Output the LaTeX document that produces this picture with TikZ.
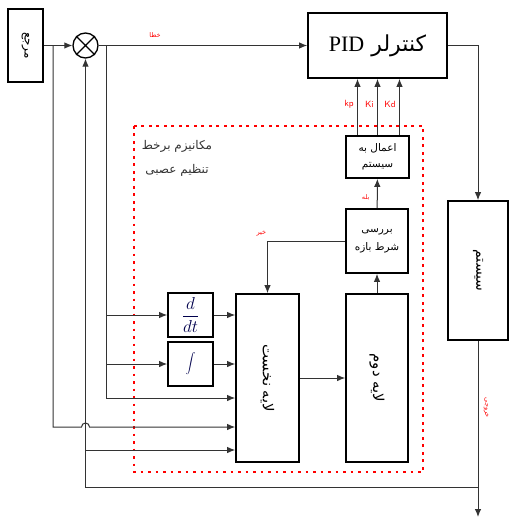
\documentclass[tikz,border=0pt]{standalone}
\usepackage{fontspec}
\setmainfont{Liberation Serif}
\newfontfamily\farsi[Script=Arabic]{DejaVu Sans}
\TeXXeTstate=1
\usepackage{tikz}
\usetikzlibrary{arrows.meta}
\tikzset{edge/.style = {-{Latex[length=8pt,width=6.5pt]}, line width=1pt, draw=black!80}}
\newcommand{\fa}[1]{{\farsi\beginR #1\endR}}

\begin{document}
\begin{tikzpicture}[x=1pt,y=-1pt,
  block/.style={draw,line width=1.7pt,inner sep=0pt},
  tag/.style={text=red,font=\farsi\fontsize{6.5}{7}\selectfont},
  gain/.style={text=red,font=\sffamily\fontsize{9}{10}\selectfont}]
\useasboundingbox (0,0) rectangle (509,521);

% main loop
\node[block,minimum width=35pt,minimum height=73pt] (ref) at (25.5,45.5) {};
\node[rotate=-90,font=\farsi\fontsize{12}{14}\selectfont] at (ref) {\fa{مرجع}};
\node[draw,circle,line width=1.3pt,minimum size=25pt,inner sep=0pt] (sum) at (85.5,45.5) {};
\draw[line width=1.4pt] (sum.north west) -- (sum.south east) (sum.north east) -- (sum.south west);
\node[block,minimum width=139pt,minimum height=65pt] (pid) at (377.5,45.5)
  {\fontsize{22}{26}\selectfont\farsi\beginR کنترلر \beginL{\rmfamily PID}\endL\endR};
\node[block,minimum width=60pt,minimum height=139pt] (sys) at (478,270.5) {};
\node[rotate=-90,font=\farsi\fontsize{14}{16}\selectfont] at (sys) {\fa{سیستم}};
\coordinate (out) at (478,517);
\coordinate (fb) at (478,487);
\coordinate (b1) at (53,45.5);
\coordinate (b2) at (106,45.5);

% neural tuning
\draw[red,line width=2.6pt,dash pattern=on 2.6pt off 4.9pt] (134,126) rectangle (423,472);
\node[align=center,text=black!80,font=\farsi\fontsize{12}{24}\selectfont] (title) at (177,158)
  {\fa{مکانیزم برخط}\\ \fa{تنظیم عصبی}};
\node[block,minimum width=63pt,minimum height=42pt,align=center,font=\farsi\fontsize{10.5}{16}\selectfont] (apply) at (377.5,157)
  {\fa{اعمال به}\\ \fa{سیستم}};
\node[block,minimum width=62pt,minimum height=64pt,align=center,font=\farsi\fontsize{10.5}{18}\selectfont] (check) at (377,241)
  {\fa{بررسی}\\ \fa{شرط بازه}};
\node[block,minimum width=63pt,minimum height=168pt] (layer1) at (267.5,378) {};
\node[rotate=-90,font=\farsi\fontsize{15}{17}\selectfont] at (layer1) {\fa{لایه نخست}};
\node[block,minimum width=62pt,minimum height=168pt] (layer2) at (377,378) {};
\node[rotate=-90,font=\farsi\fontsize{15}{17}\selectfont] at (layer2) {\fa{لایه دوم}};
\node[block,minimum width=45pt,minimum height=44pt,text=blue!30!black,font=\fontsize{16}{18}\selectfont] (ddt) at (190.5,315) {$\displaystyle\frac{d}{dt}$};
\node[block,minimum width=45pt,minimum height=44pt,text=blue!30!black,font=\fontsize{18}{20}\selectfont] (integ) at (190.5,364) {$\displaystyle\int$};
\coordinate (in3) at ([yshift=-20pt]layer1.west);
\coordinate (in4) at ([yshift=-49pt]layer1.west);
\coordinate (in5) at ([yshift=-72pt]layer1.west);

% connectors
\draw[edge] (ref) -- (sum);
\draw[edge] (sum) -- (pid) node[tag,pos=0.27,above=4pt] {\fa{خطا}};
\draw[edge] (pid.east) -| (sys.north);
\draw[edge] (sys) -- (out) node[tag,pos=0.38,right=2pt,rotate=-90,anchor=south] {\fa{خروجی}};
\draw[edge] (fb) -| (sum.south);
\draw[edge] (b1) |- ([xshift=-4pt]sum.south |- in4) arc[start angle=180,end angle=0,radius=4pt] -- (in4);
\draw[edge] (b2) |- (in3);
\draw[edge] (sum.south |- in5) -- (in5);
\draw[edge] (b2 |- ddt.west) -- (ddt.west);
\draw[edge] (b2 |- integ.west) -- (integ.west);
\draw[edge] (ddt.east) -- (layer1.west |- ddt.east);
\draw[edge] (integ.east) -- (layer1.west |- integ.east);
\draw[edge] (layer1) -- (layer2);
\draw[edge] (layer2) -- (check);
\draw[edge] (check) -- (apply) node[tag,pos=0.35,left=4pt] {\fa{بله}};
\draw[edge] (check.west) -| (layer1.north) node[tag,pos=0.4,above left=1pt,xshift=-12pt] {\fa{خیر}};
\draw[edge] ([xshift=-20pt]apply.north) -- ([xshift=-20pt]apply.north |- pid.south) node[gain,pos=0.55,left=0pt] {kp};
\draw[edge] (apply.north) -- (apply.north |- pid.south) node[gain,pos=0.55,left=0pt] {Ki};
\draw[edge] ([xshift=22pt]apply.north) -- ([xshift=22pt]apply.north |- pid.south) node[gain,pos=0.55,left=0pt] {Kd};
\end{tikzpicture}
\end{document}
